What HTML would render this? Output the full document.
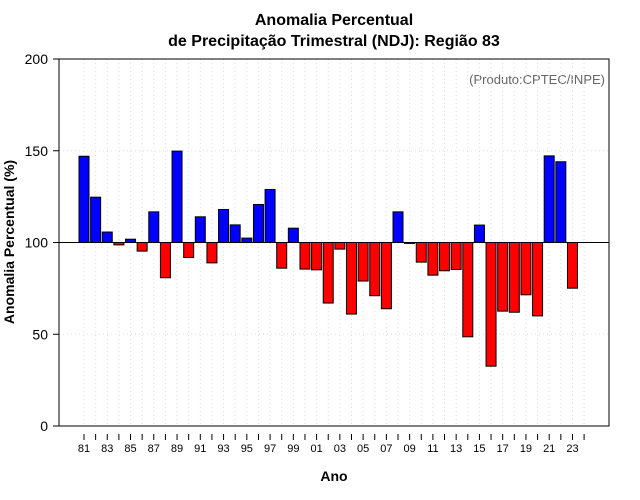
<!DOCTYPE html>
<html><head><meta charset="utf-8"><style>
body{margin:0;background:#fff}
svg{display:block;font-family:"Liberation Sans",sans-serif}
</style></head><body>
<svg id="c" width="640" height="500">
<text x="334" y="25" text-anchor="middle" font-size="16" font-weight="bold">Anomalia Percentual</text>
<text x="334" y="46" text-anchor="middle" font-size="16" font-weight="bold">de Precipitação Trimestral (NDJ): Região 83</text>
<text x="334" y="481" text-anchor="middle" font-size="14" font-weight="bold">Ano</text>
<text transform="translate(14,242) rotate(-90)" text-anchor="middle" font-size="14" font-weight="bold">Anomalia Percentual (%)</text>
<text x="605" y="84" text-anchor="end" font-size="13" fill="#666">(Produto:CPTEC/INPE)</text>
<g id="grid"></g><g id="bars"></g><g id="axes"></g>
</svg>
<script>
const years=[1981,1982,1983,1984,1985,1986,1987,1988,1989,1990,1991,1992,1993,1994,1995,1996,1997,1998,1999,2000,2001,2002,2003,2004,2005,2006,2007,2008,2009,2010,2011,2012,2013,2014,2015,2016,2017,2018,2019,2020,2021,2022,2023];
const values=[147,124.7,105.7,98.7,101.8,95.3,116.7,80.8,149.8,91.8,114,88.9,118,109.6,102.4,120.7,128.9,86,107.8,85.5,85.1,67,96.4,61,79,71,63.9,116.7,99.5,89.3,82.2,84.6,85.3,48.6,109.5,32.6,62.6,62,71.5,60,147.2,144,75.1];
const yTicks=[0,50,100,150,200];
const NS='http://www.w3.org/2000/svg';
const L=59,R=609,T=59,B=426;
const y=v=>B-(v/200)*(B-T);
const x=yr=>84+(yr-1981)*11.63;
function mk(tag,at,parent){const e=document.createElementNS(NS,tag);for(const k in at)e.setAttribute(k,at[k]);document.getElementById(parent).appendChild(e);return e;}
const g='grid';
for(let yr=1981;yr<=2024;yr++){const l=mk('line',{x1:x(yr),x2:x(yr),y1:T,y2:B,stroke:'#ddd','stroke-dasharray':'1,3'},g);

}
[50,150,200].forEach(v=>{const l=mk('line',{x1:L,x2:R,y1:y(v),y2:y(v),stroke:'#ddd','stroke-dasharray':'1,3'},g);

});
values.forEach((v,i)=>{const top=Math.min(y(v),y(100)),h=Math.abs(y(v)-y(100));
const r=mk('rect',{x:x(years[i])-5,y:top,width:10,height:Math.max(h,0.5),fill:v>=100?'#0000ff':'#ff0000',stroke:'#000','stroke-width':1},'bars');

});
const a='axes';
const ref=mk('line',{x1:L,x2:R,y1:y(100),y2:y(100),stroke:'#000','stroke-width':1},a);


const box=mk('rect',{x:L,y:T,width:R-L,height:B-T,fill:'none',stroke:'#000'},a);


yTicks.forEach(v=>{mk('line',{x1:L-6,x2:L,y1:y(v),y2:y(v),stroke:'#000'},a);
const t=mk('text',{x:L-11,y:y(v)+5,'text-anchor':'end','font-size':14},a);t.textContent=v;

});
for(let yr=1981;yr<=2024;yr++){mk('line',{x1:x(yr),x2:x(yr),y1:B+8,y2:B+14,stroke:'#000'},a);
if((yr-1981)%2==0){const t=mk('text',{x:x(yr),y:452,'text-anchor':'middle','font-size':11},a);t.textContent=String(yr).slice(2);

}}
</script>
</body></html>
